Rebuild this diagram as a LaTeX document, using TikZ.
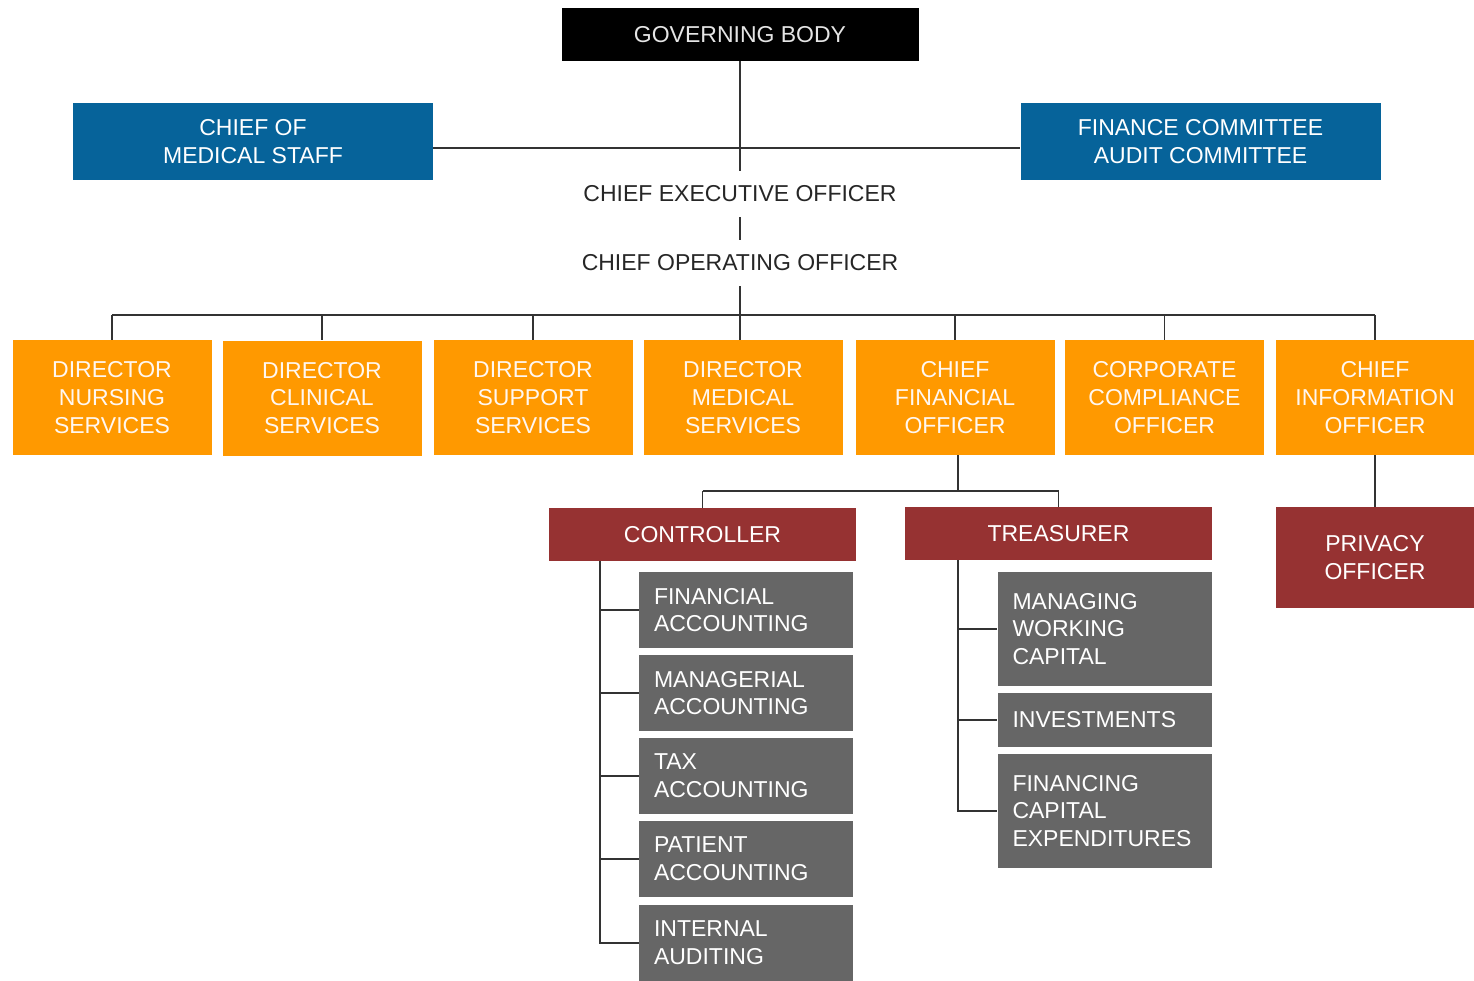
\documentclass[tikz,border=0pt]{standalone}
\usepackage{fontspec}
\setmainfont{Liberation Sans}
\definecolor{cblue}{HTML}{06639A}
\definecolor{corange}{HTML}{FF9900}
\definecolor{cred}{HTML}{963232}
\definecolor{cgray}{HTML}{666666}
\definecolor{cline}{HTML}{333333}
\begin{document}
\begin{tikzpicture}[x=1pt,y=-1pt,
  every node/.style={font=\fontsize{23}{27.8}\selectfont, inner sep=0pt, align=center},
  box/.style={rectangle, text=white},
  gbbox/.style={box, fill=black, text=white!90!black, minimum width=357, minimum height=53},
  bbox/.style={box, fill=cblue, minimum width=360, minimum height=77},
  obox/.style={box, fill=corange, text=white!94!orange, minimum width=199, minimum height=115},
  rbox/.style={box, fill=cred, minimum width=307, minimum height=53},
  gbox/.style={box, fill=cgray, text width=184, inner xsep=15pt, align=left, minimum height=#1},
  lbl/.style={text=black!85, minimum height=46},
  conn/.style={draw=cline, line width=1.8pt}
]
\useasboundingbox (0,0) rectangle (1474,980);
% top
\node[gbbox] (gb) at (740,34.5) {GOVERNING BODY};
\node[bbox] (ms) at (253,141.5) {CHIEF OF\\MEDICAL STAFF};
\node[bbox] (fc) at (1200.5,141.5) {FINANCE COMMITTEE\\AUDIT COMMITTEE};
\node[lbl] (ceo) at (740,194) {CHIEF EXECUTIVE OFFICER};
\node[lbl] (coo) at (740,263) {CHIEF OPERATING OFFICER};
% directors
\node[obox] (d1) at (112,397.5) {DIRECTOR\\NURSING\\SERVICES};
\node[obox] (d2) at (322,398) {DIRECTOR\\CLINICAL\\SERVICES};
\node[obox] (d3) at (533,397.5) {DIRECTOR\\SUPPORT\\SERVICES};
\node[obox] (d4) at (743,397.5) {DIRECTOR\\MEDICAL\\SERVICES};
\node[obox] (d5) at (955,397.5) {CHIEF\\FINANCIAL\\OFFICER};
\node[obox] (d6) at (1164.5,397.5) {CORPORATE\\COMPLIANCE\\OFFICER};
\node[obox] (d7) at (1375,397.5) {CHIEF\\INFORMATION\\OFFICER};
% second level
\node[rbox] (ctrl) at (702.5,534.5) {CONTROLLER};
\node[rbox] (tr) at (1058.5,533.5) {TREASURER};
\node[box, fill=cred, minimum width=199, minimum height=101] (po) at (1375,557.5) {PRIVACY\\OFFICER};
% controller units
\node[gbox=76] (fa) at (746,610) {FINANCIAL\\ACCOUNTING};
\node[gbox=76] (ma) at (746,693) {MANAGERIAL\\ACCOUNTING};
\node[gbox=76] (ta) at (746,776) {TAX\\ACCOUNTING};
\node[gbox=76] (pa) at (746,859) {PATIENT\\ACCOUNTING};
\node[gbox=76] (ia) at (746,943) {INTERNAL\\AUDITING};
% treasurer units
\node[gbox=114] (mw) at (1104.5,629) {MANAGING\\WORKING\\CAPITAL};
\node[gbox=54] (inv) at (1104.5,720) {INVESTMENTS};
\node[gbox=114] (fce) at (1104.5,811) {FINANCING\\CAPITAL\\EXPENDITURES};
% connectors
\coordinate (hj) at (740,148);
\coordinate (bus) at (740,315);
\coordinate (fb) at (958,491);
\coordinate (cv) at (600,0);
\coordinate (tv) at (958,0);
\draw[conn] (gb.south) -- (ceo.north);
\draw[conn] (ms.east |- hj) -- (fc.west |- hj);
\draw[conn] (ceo.south) -- (coo.north);
\draw[conn] (coo.south) -- (bus) -- (bus |- d4.north);
\draw[conn] (d1.north |- bus) -- (d7.north |- bus);
\foreach \n in {d1,d2,d3,d5,d6,d7} \draw[conn] (\n.north |- bus) -- (\n.north);
\draw[conn] (d5.south -| tv) -- (tv |- fb);
\draw[conn] (ctrl.north |- fb) -- (tr.north |- fb);
\draw[conn] (ctrl.north |- fb) -- (ctrl.north);
\draw[conn] (tr.north |- fb) -- (tr.north);
\draw[conn] (d7.south) -- (po.north);
\draw[conn] (ctrl.south -| cv) -- (cv |- ia.west) -- (ia.west);
\foreach \n in {fa,ma,ta,pa} \draw[conn] (cv |- \n.west) -- (\n.west);
\draw[conn] (tr.south -| tv) -- (tv |- fce.west) -- (fce.west);
\foreach \n in {mw,inv} \draw[conn] (tv |- \n.west) -- (\n.west);
\end{tikzpicture}
\end{document}
